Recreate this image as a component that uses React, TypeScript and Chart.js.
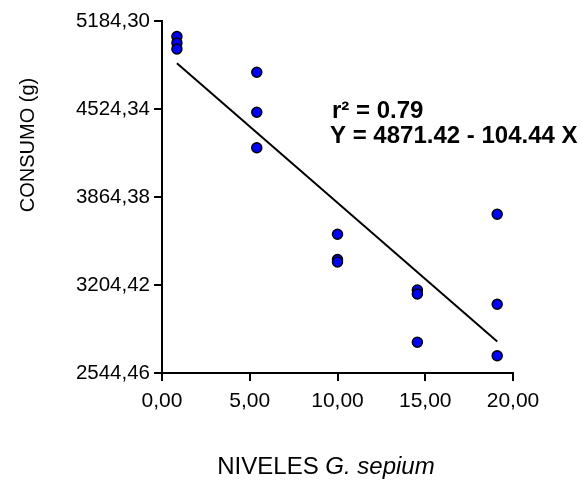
import React, { useEffect, useRef } from "react";
import { Chart, registerables } from "chart.js";

Chart.register(...registerables);

// Tick values
const xTickValues = [0, 5, 10, 15, 20];
const yTickValues = [2544.46, 3204.42, 3864.38, 4524.34, 5184.3];

// Observed points (level of G. sepium vs consumption)
const nivelX = [0.85, 0.85, 0.85, 5.4, 5.4, 5.4, 10, 10, 10, 14.55, 14.55, 14.55, 19.1, 19.1, 19.1];
const consumoY = [5068, 5019, 4974, 4800, 4500, 4234, 3585, 3396, 3377, 3167, 3137, 2775, 3735, 3060, 2674];

// Fitted line end points as drawn
const fitX = [0.85, 19.1];
const fitY = [4867, 2781];

const annotation1 = "r\u00B2 = 0.79";
const annotation2 = "Y = 4871.42 - 104.44 X";
const xTitleA = "NIVELES ";
const xTitleB = "G. sepium";
const yTitle = "CONSUMO (g)";

const FONT = "'Liberation Sans', Arial, Helvetica, sans-serif";

const fmt = (v: number) => v.toFixed(2).replace(".", ",");

const textPlugin = {
  id: "texts",
  afterDraw(chart: any) {
    const ctx = chart.ctx as CanvasRenderingContext2D;
    ctx.save();
    ctx.fillStyle = "#000";
    // annotations
    ctx.font = `bold 24px ${FONT}`;
    ctx.textAlign = "left";
    ctx.textBaseline = "alphabetic";
    ctx.fillText(annotation1, 332, 118);
    ctx.fillText(annotation2, 330, 143);
    // x title
    ctx.font = `24px ${FONT}`;
    const wA = ctx.measureText(xTitleA).width;
    ctx.font = `italic 24px ${FONT}`;
    const wB = ctx.measureText(xTitleB).width;
    const cx = 326;
    const startX = cx - (wA + wB) / 2;
    ctx.font = `24px ${FONT}`;
    ctx.fillText(xTitleA, startX, 474);
    ctx.font = `italic 24px ${FONT}`;
    ctx.fillText(xTitleB, startX + wA, 474);
    // y title
    ctx.translate(34, 145);
    ctx.rotate(-Math.PI / 2);
    ctx.font = `20px ${FONT}`;
    ctx.textAlign = "center";
    ctx.fillText(yTitle, 0, 0);
    ctx.restore();
  },
};

export default function App() {
  const ref = useRef<HTMLCanvasElement>(null);
  useEffect(() => {
    document.body.style.margin = "0";
    if (!ref.current) return;
    const chart = new Chart(ref.current, {
      type: "scatter",
      data: {
        datasets: [
          {
            label: "Observado",
            data: nivelX.map((x, i) => ({ x, y: consumoY[i] })),
            pointRadius: 5,
            pointHoverRadius: 5,
            backgroundColor: "#0000ff",
            borderColor: "#000",
            borderWidth: 1.5,
            order: 1,
          },
          {
            type: "line",
            label: "Ajuste",
            data: fitX.map((x, i) => ({ x, y: fitY[i] })),
            borderColor: "#000",
            borderWidth: 2,
            pointRadius: 0,
            showLine: true,
            fill: false,
            order: 2,
          } as any,
        ],
      },
      options: {
        responsive: false,
        animation: false,
        layout: { padding: { top: 21, right: 69, left: 0, bottom: 0 } },
        plugins: { legend: { display: false }, tooltip: { enabled: false }, title: { display: false } },
        scales: {
          x: {
            type: "linear",
            min: 0,
            max: 20,
            afterFit: (s: any) => {
              s.height = 109;
            },
            afterBuildTicks: (s: any) => {
              s.ticks = xTickValues.map((v) => ({ value: v }));
            },
            ticks: {
              callback: (v: any) => fmt(Number(v)),
              color: "#000",
              font: { size: 21, family: FONT },
              padding: 8,
              maxRotation: 0,
              autoSkip: false,
            },
            grid: { drawOnChartArea: false, drawTicks: true, tickLength: 8, color: "#000", lineWidth: 2 },
            border: { display: true, color: "#000", width: 2 },
          },
          y: {
            type: "linear",
            min: yTickValues[0],
            max: yTickValues[yTickValues.length - 1],
            afterFit: (s: any) => {
              s.width = 162;
            },
            afterBuildTicks: (s: any) => {
              s.ticks = yTickValues.map((v) => ({ value: v }));
            },
            ticks: {
              callback: (v: any) => fmt(Number(v)),
              color: "#000",
              font: { size: 20.5, family: FONT },
              padding: 4,
              autoSkip: false,
            },
            grid: { drawOnChartArea: false, drawTicks: true, tickLength: 8, color: "#000", lineWidth: 2 },
            border: { display: true, color: "#000", width: 2 },
          },
        },
      },
      plugins: [textPlugin],
    });
    return () => chart.destroy();
  }, []);
  return (
    <div style={{ width: 582, height: 482 }}>
      <canvas ref={ref} width={582} height={482} />
    </div>
  );
}
